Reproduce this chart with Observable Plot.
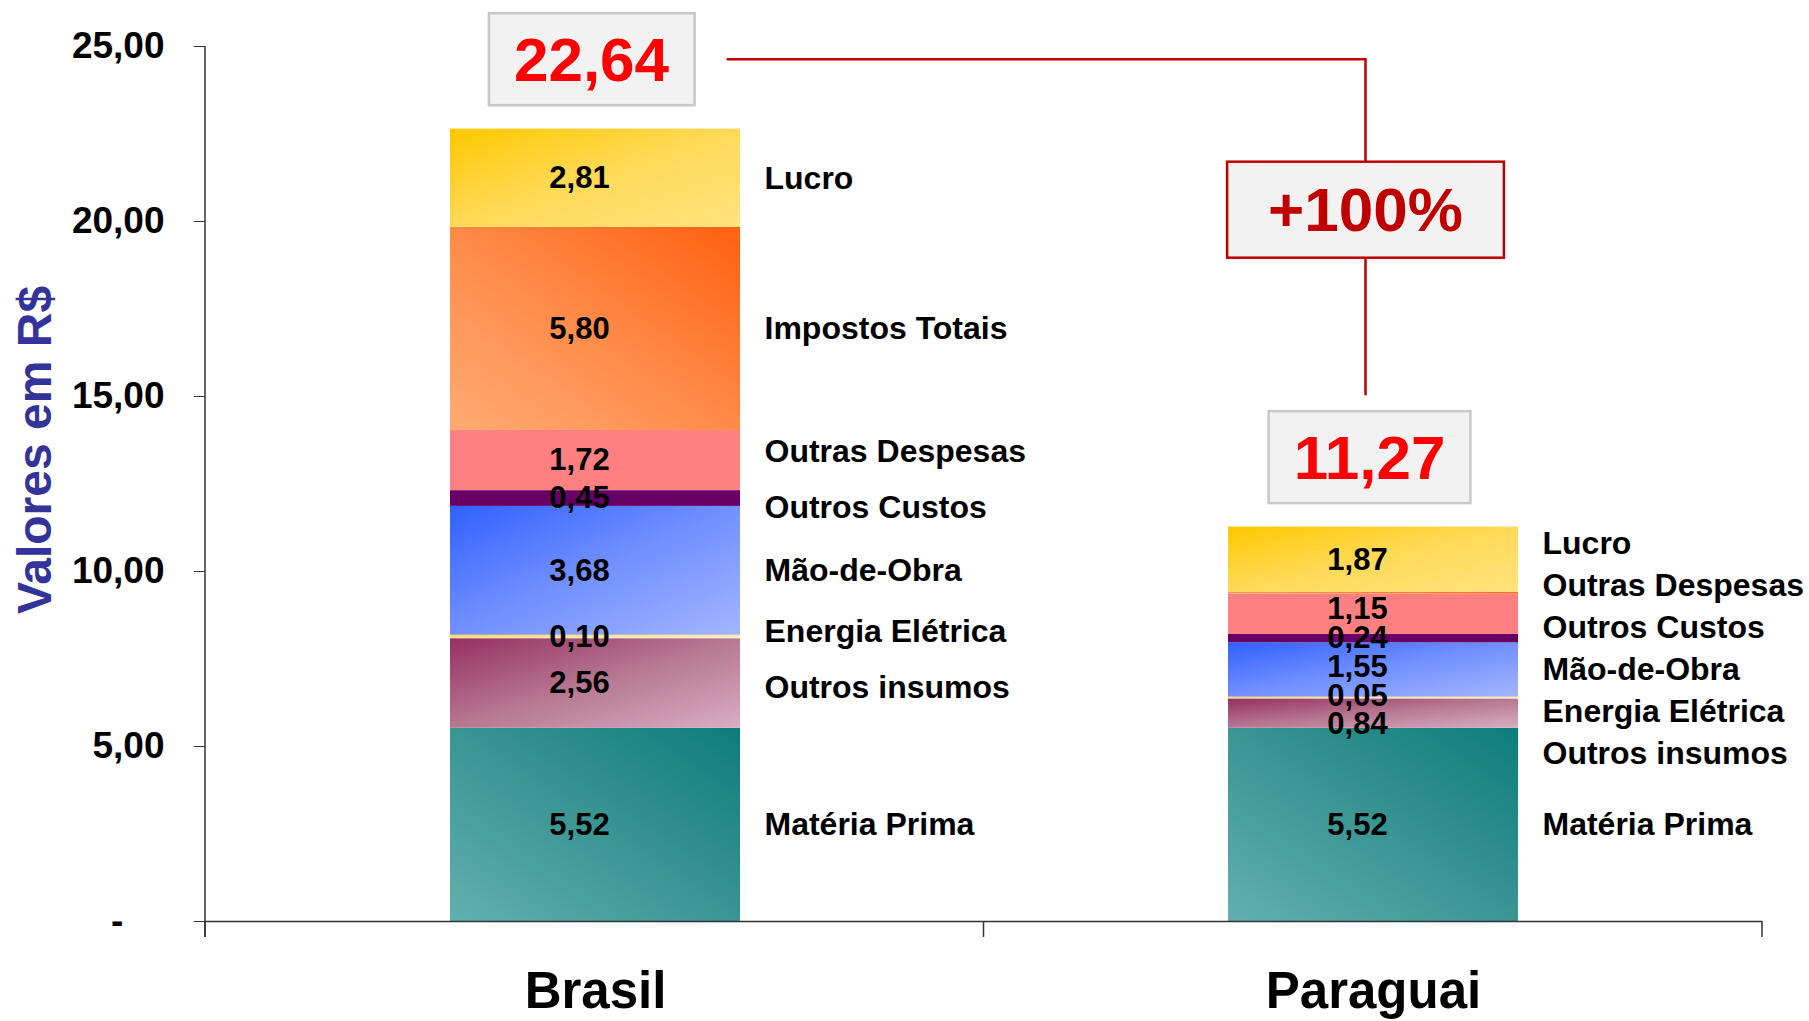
<!DOCTYPE html>
<html><head><meta charset="utf-8">
<script src="https://cdn.jsdelivr.net/npm/d3@7"></script>
<script src="https://cdn.jsdelivr.net/npm/@observablehq/plot@0.6"></script>
<style>
html,body{margin:0;padding:0;background:#fff;overflow:hidden}
#chart svg{font-family:"Liberation Sans",Arial,sans-serif;white-space:pre}
</style></head><body><div id="chart"></div>
<script>
// ---- data ----
const countries = ["Brasil", "Paraguai"];
const components = ["Matéria Prima", "Outros insumos", "Energia Elétrica", "Mão-de-Obra", "Outros Custos", "Outras Despesas", "Impostos Totais", "Lucro"];
const brasilValues = [5.52, 2.56, 0.10, 3.68, 0.45, 1.72, 5.80, 2.81];
const paraguaiValues = [5.52, 0.84, 0.05, 1.55, 0.24, 1.15, 0.05, 1.87];
const paraguaiUnlabeled = ["Impostos Totais"];
const totals = [22.64, 11.27];
const changeText = "+100%";
const yTicks = [0, 5, 10, 15, 20, 25];

// ---- styles ----
const gradients = {
  "Matéria Prima":   {x1:1,y1:0,x2:0,y2:1, stops:["#0D7D7A","#3A9593","#62B0B0"]},
  "Outros insumos":  {x1:0,y1:0,x2:1,y2:1, stops:["#953062","#B77892","#D8AEC2"]},
  "Energia Elétrica":{x1:0,y1:0,x2:1,y2:1, stops:["#FFD24D","#FFE699","#FFF4D6"]},
  "Mão-de-Obra":     {x1:0,y1:0,x2:1,y2:1, stops:["#3060FF","#7290FF","#A2B6FF"]},
  "Outros Custos":   {x1:0,y1:0,x2:1,y2:1, stops:["#660066","#660066"]},
  "Outras Despesas": {x1:0,y1:0,x2:1,y2:1, stops:["#FF8080","#FF8080"]},
  "Impostos Totais": {x1:1,y1:0,x2:0,y2:1, stops:["#FF600F","#FF8A48","#FFAB74"]},
  "Lucro":           {x1:0,y1:0,x2:1,y2:1, stops:["#FFC800","#FFDA58","#FFE37E"]}
};
const sideGap = {Brasil: 1.6, Paraguai: 1.2};   // min spacing of side labels (y units)
const valueGap = 0.82;                            // min spacing of value labels (y units)
const gid = c => "g" + components.indexOf(c);

const locale = d3.formatLocale({decimal: ",", thousands: ".", grouping: [3], currency: ["R$", ""]});
const fmt = locale.format(",.2f");

function relax(items, key, gap) {
  items.sort((a, b) => a.mid - b.mid);
  items.forEach(d => d[key] = d.mid);
  for (let it = 0; it < 2000; it++) {
    let moved = false;
    for (let i = 1; i < items.length; i++) {
      const a = items[i - 1], b = items[i];
      const o = gap - (b[key] - a[key]);
      if (o > 1e-6) { a[key] -= o / 2; b[key] += o / 2; moved = true; }
    }
    if (!moved) break;
  }
}

const valuesBy = {Brasil: brasilValues, Paraguai: paraguaiValues};
const unlabeledBy = {Brasil: [], Paraguai: paraguaiUnlabeled};
const rows = [];
const labelRows = [];
countries.forEach(country => {
  let cum = 0;
  const items = [];
  components.forEach((component, i) => {
    const value = valuesBy[country][i];
    const labeled = !unlabeledBy[country].includes(component);
    rows.push({country, component, value});
    if (labeled) items.push({country, component, value, mid: cum + value / 2});
    cum += value;
  });
  relax(items, "sideY", sideGap[country]);
  relax(items, "valueY", valueGap);
  labelRows.push(...items);
});
const totalRows = countries.map((country, i) => ({country, total: totals[i]}));

const W = 1809, H = 1021;
const plot = Plot.plot({
  width: W, height: H,
  marginLeft: 205, marginRight: 47, marginTop: 46, marginBottom: 100,
  x: {domain: countries, padding: 0, label: null},
  y: {domain: [0, 25], label: null},
  color: {type: "identity"},
  style: {fontFamily: '"Liberation Sans", Arial, sans-serif', background: "white", color: "black"},
  marks: [
    Plot.axisY({ticks: yTicks, tickSize: 11, tickPadding: 30, stroke: "#333",
      tickFormat: d => d === 0 ? "-\u2007\u2007" : fmt(d), fontSize: 37, fontWeight: "bold", label: null}),
    Plot.axisX({tickSize: 0, tickPadding: 50, fontSize: 51, fontWeight: "bold", label: null}),
    Plot.barY(rows, {x: "country", y: "value", fill: d => `url(#${gid(d.component)})`, insetLeft: 244, insetRight: 244}),
    Plot.ruleY([0], {stroke: "#333", strokeWidth: 1.5}),
    Plot.text(labelRows, {x: "country", y: "valueY", text: d => fmt(d.value), dx: -16, fontSize: 31, fontWeight: "bold", fill: "black"}),
    Plot.text(labelRows, {x: "country", y: "sideY", text: "component", textAnchor: "start", dx: 169, fontSize: 32, fontWeight: "bold", fill: "black"}),
    Plot.text(["Valores em R$"], {frameAnchor: "left", textAnchor: "middle", rotate: -90, dx: -170, dy: -34, fontSize: 48, fontWeight: "bold", fill: "#333399"}),
    Plot.text(totalRows, {x: "country", y: d => d.total + 1.95, text: d => fmt(d.total), dx: -4, fill: "#FF0000", fontSize: 62, fontWeight: "bold", className: "total-label"}),
    Plot.text([changeText], {x: () => countries[1], y: () => totals[0] - 2.35, text: d => d, dx: -8, fill: "#C00000", fontSize: 62, fontWeight: "bold", className: "change-label"})
  ]
});
document.getElementById("chart").appendChild(plot);

const svgEl = plot.tagName.toLowerCase() === "svg" ? plot : plot.querySelector("svg");
const svg = d3.select(svgEl);
svg.selectAll('[aria-label="y-axis tick label"] text, [aria-label="x-axis tick label"] text').attr("font-weight", "bold");

// gradients
const defs = svg.insert("defs", ":first-child");
components.forEach(c => {
  const g = gradients[c];
  const lg = defs.append("linearGradient").attr("id", gid(c))
    .attr("x1", g.x1).attr("y1", g.y1).attr("x2", g.x2).attr("y2", g.y2);
  g.stops.forEach((s, i) => lg.append("stop").attr("offset", i / (g.stops.length - 1)).attr("stop-color", s));
});

// axis frame from the scales
const xs = plot.scale("x"), ys = plot.scale("y");
const yOf = v => ys.range[0] + (v - ys.domain[0]) / (ys.domain[1] - ys.domain[0]) * (ys.range[1] - ys.range[0]);
const step = (xs.range[1] - xs.range[0]) / countries.length;
const y0 = yOf(0), yTop = yOf(25);
const axisG = svg.append("g").attr("stroke", "#333").attr("stroke-width", 1.5);
axisG.append("line").attr("x1", xs.range[0]).attr("x2", xs.range[0]).attr("y1", yTop).attr("y2", y0 + 16);
d3.range(countries.length + 1).forEach(i => {
  const xx = xs.range[0] + i * step;
  axisG.append("line").attr("x1", xx).attr("x2", xx).attr("y1", y0).attr("y2", y0 + 16);
});

// boxes behind annotation texts
function boxBehind(textNode, padX, h, fill, stroke) {
  const bb = textNode.getBBox();
  const cy = bb.y + bb.height / 2;
  const r = document.createElementNS("http://www.w3.org/2000/svg", "rect");
  r.setAttribute("x", bb.x - padX); r.setAttribute("width", bb.width + 2 * padX);
  r.setAttribute("y", cy - h / 2); r.setAttribute("height", h);
  r.setAttribute("fill", fill); r.setAttribute("stroke", stroke); r.setAttribute("stroke-width", 2.5);
  if (textNode.getAttribute("transform")) r.setAttribute("transform", textNode.getAttribute("transform"));
  textNode.parentNode.insertBefore(r, textNode);
  return r;
}
const svgRect = svgEl.getBoundingClientRect();
const totalTexts = svgEl.querySelectorAll(".total-label text");
const totalBoxes = Array.from(totalTexts).map(t => boxBehind(t, 25, 92, "#F2F2F2", "#C8C8C8"));
const changeTextNode = svgEl.querySelector(".change-label text");
const changeG = svgEl.querySelector(".change-label");
const changeBox = boxBehind(changeTextNode, 41, 96, "#F2F2F2", "#C00000");

const b1 = totalBoxes[0].getBoundingClientRect();
const b2 = totalBoxes[1].getBoundingClientRect();
const bc = changeBox.getBoundingClientRect();
const lineX = bc.left + bc.width / 2 - svgRect.left;
const p = d3.path();
p.moveTo(b1.right - svgRect.left + 32, b1.top + b1.height / 2 - svgRect.top);
p.lineTo(lineX, b1.top + b1.height / 2 - svgRect.top);
p.lineTo(lineX, b2.top - svgRect.top - 16);
const path = document.createElementNS("http://www.w3.org/2000/svg", "path");
path.setAttribute("d", p.toString());
path.setAttribute("fill", "none"); path.setAttribute("stroke", "#C00000"); path.setAttribute("stroke-width", 2.5);
changeG.parentNode.insertBefore(path, changeG);
</script></body></html>
